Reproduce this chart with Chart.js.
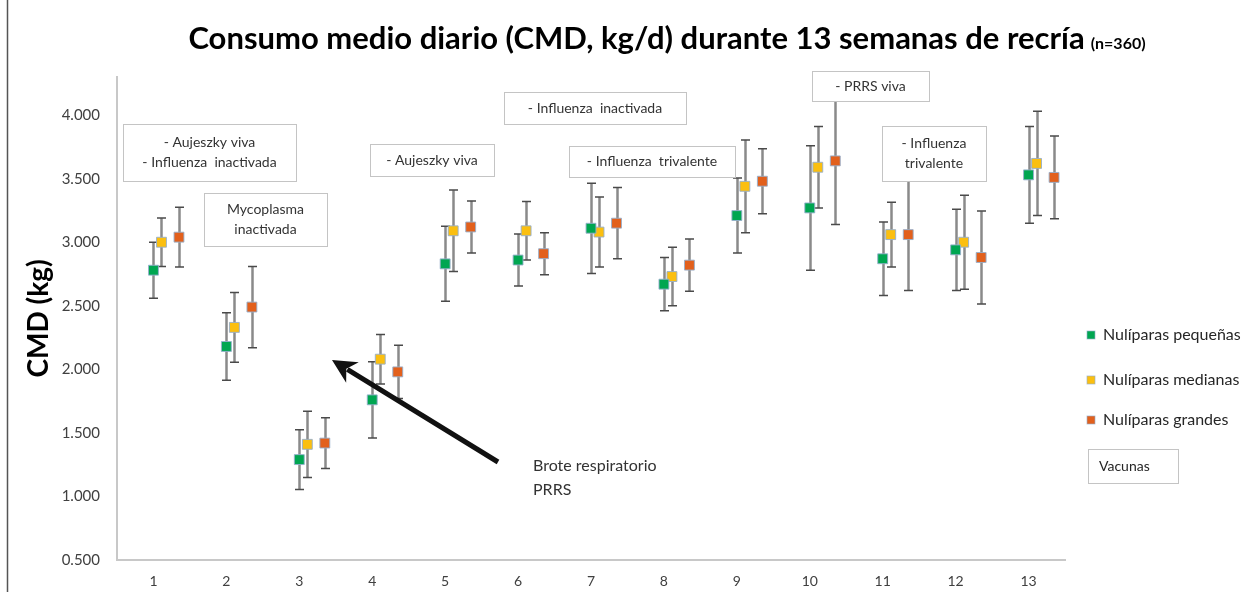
<!DOCTYPE html>
<html><head><meta charset="utf-8">
<script src="https://cdn.jsdelivr.net/npm/chart.js@4"></script>
<style>
html,body{margin:0;padding:0;background:#fff;}
canvas{display:block;}
</style></head><body>
<canvas id="c" width="1249" height="592"></canvas>
<script>
// ---- data ----
const weeks = [1,2,3,4,5,6,7,8,9,10,11,12,13];
const xTickLabels = ['1','2','3','4','5','6','7','8','9','10','11','12','13'];
const yTicks = [0.5,1,1.5,2,2.5,3,3.5,4];
const yTickLabels = ['0.500','1.000','1.500','2.000','2.500','3.000','3.500','4.000'];
const seriesNames = ['Nulíparas pequeñas','Nulíparas medianas','Nulíparas grandes'];
const pequenas    = [2.78,2.18,1.29,1.76,2.83,2.86,3.11,2.67,3.21,3.27,2.87,2.94,3.53];
const pequenasErr = [0.22,0.265,0.235,0.30,0.295,0.205,0.355,0.21,0.295,0.49,0.29,0.32,0.38];
const medianas    = [3.00,2.33,1.41,2.08,3.09,3.09,3.08,2.73,3.44,3.59,3.06,3.00,3.62];
const medianasErr = [0.19,0.275,0.26,0.195,0.32,0.23,0.275,0.23,0.365,0.32,0.255,0.37,0.41];
const grandes     = [3.04,2.49,1.42,1.98,3.12,2.91,3.15,2.82,3.48,3.64,3.06,2.88,3.51];
const grandesErr  = [0.235,0.32,0.20,0.21,0.205,0.165,0.28,0.205,0.255,0.50,0.44,0.365,0.325];
const titleText = 'Consumo medio diario (CMD, kg/d) durante 13 semanas de recría';
const titleSmall = '(n=360)';
const yTitle = 'CMD (kg)';
const vaccineNotes = [
  ['- Aujeszky viva','- Influenza  inactivada'],
  ['Mycoplasma','inactivada'],
  ['- Aujeszky viva'],
  ['- Influenza  inactivada'],
  ['- Influenza  trivalente'],
  ['- PRRS viva'],
  ['- Influenza','trivalente']
];
const outbreakNote = ['Brote respiratorio','PRRS'];
const vaccineLegend = 'Vacunas';

// ---- style ----
const colors = ['#00a651','#fbbf10','#e2601c'];
const xOffsets = [0.0, 0.11, 0.35];
const noteBoxes = [
  {x:123,y:124,w:173,h:57},
  {x:204,y:193,w:123,h:53},
  {x:370,y:144,w:124,h:32},
  {x:504,y:92,w:182,h:32},
  {x:569,y:146,w:166,h:31},
  {x:812,y:71,w:117,h:30},
  {x:882,y:126,w:104,h:55}
];
const FONT = 'Lato, "Open Sans", sans-serif';

function mk(vals, errs, k){
  return {
    label: seriesNames[k],
    data: weeks.map((w,i)=>({x: w + xOffsets[k], y: vals[i]})),
    errors: errs,
    backgroundColor: colors[k],
    borderColor: 'rgba(150,175,205,0.9)',
    borderWidth: 1,
    pointStyle: 'rect',
    pointRadius: 7,
    pointHoverRadius: 7,
    showLine: false
  };
}

const errPlugin = {
  id:'errbars',
  beforeDatasetsDraw(chart){
    const ctx = chart.ctx, xs = chart.scales.x, ys = chart.scales.y;
    ctx.save();
    chart.data.datasets.forEach(ds=>{
      ds.data.forEach((p,i)=>{
        const px = Math.round(xs.getPixelForValue(p.x)) + 0.5;
        const t = ys.getPixelForValue(p.y + ds.errors[i]);
        const b = ys.getPixelForValue(p.y - ds.errors[i]);
        ctx.strokeStyle = '#8a8a8a'; ctx.lineWidth = 2.5;
        ctx.beginPath(); ctx.moveTo(px,t); ctx.lineTo(px,b); ctx.stroke();
        ctx.strokeStyle = '#4a4a4a'; ctx.lineWidth = 1.5;
        ctx.beginPath();
        ctx.moveTo(px-4.5,t); ctx.lineTo(px+4.5,t);
        ctx.moveTo(px-4.5,b); ctx.lineTo(px+4.5,b);
        ctx.stroke();
      });
    });
    ctx.restore();
  }
};

const decoPlugin = {
  id:'deco',
  afterDraw(chart){
    const ctx = chart.ctx;
    ctx.save();
    // frame line at left
    ctx.strokeStyle = '#555'; ctx.lineWidth = 1.5;
    ctx.beginPath(); ctx.moveTo(7.5,0); ctx.lineTo(7.5,592); ctx.stroke();
    // title
    ctx.fillStyle = '#000';
    ctx.textBaseline = 'alphabetic';
    ctx.font = 'bold 31px ' + FONT;
    const w1 = ctx.measureText(titleText).width;
    ctx.font = 'bold 16px ' + FONT;
    const w2 = ctx.measureText(titleSmall).width;
    const total = w1 + 6 + w2;
    let sx = 667 - total/2;
    ctx.font = 'bold 31px ' + FONT;
    ctx.textAlign = 'left';
    ctx.fillText(titleText, sx, 49);
    ctx.font = 'bold 16px ' + FONT;
    ctx.fillText(titleSmall, sx + w1 + 6, 49);
    // vaccine notes
    ctx.font = '14px ' + FONT;
    ctx.textAlign = 'center'; ctx.textBaseline = 'middle';
    noteBoxes.forEach((b,i)=>{
      ctx.fillStyle = '#fff';
      ctx.fillRect(b.x,b.y,b.w,b.h);
      ctx.strokeStyle = '#c4c4c4'; ctx.lineWidth = 1;
      ctx.strokeRect(b.x+0.5,b.y+0.5,b.w,b.h);
      ctx.fillStyle = '#333';
      const lines = vaccineNotes[i];
      const lh = 20;
      const cy = b.y + b.h/2 - (lines.length-1)*lh/2;
      lines.forEach((l,j)=>ctx.fillText(l, b.x + b.w/2, cy + j*lh));
    });
    // arrow
    const tx=498, ty=462, hx=332, hy=360;
    const ang = Math.atan2(hy-ty, hx-tx);
    const hl = 24, hw = 12;
    const bx = hx - hl*Math.cos(ang), by = hy - hl*Math.sin(ang);
    ctx.strokeStyle = '#111'; ctx.lineWidth = 5; ctx.lineCap='butt';
    ctx.beginPath(); ctx.moveTo(tx,ty); ctx.lineTo(bx + 6*Math.cos(ang), by + 6*Math.sin(ang)); ctx.stroke();
    ctx.fillStyle = '#111';
    ctx.beginPath();
    ctx.moveTo(hx,hy);
    ctx.lineTo(bx + hw*Math.sin(ang), by - hw*Math.cos(ang));
    ctx.lineTo(bx + 0.3*hl*Math.cos(ang), by + 0.3*hl*Math.sin(ang));
    ctx.lineTo(bx - hw*Math.sin(ang), by + hw*Math.cos(ang));
    ctx.closePath(); ctx.fill();
    // outbreak note
    ctx.font = '16px ' + FONT; ctx.fillStyle = '#333';
    ctx.textAlign = 'left';
    ctx.fillText(outbreakNote[0], 533, 466);
    ctx.fillText(outbreakNote[1], 533, 490);
    // legend
    const ly = [335, 380, 420];
    ctx.font = '16px ' + FONT;
    chart.data.datasets.forEach((ds,k)=>{
      ctx.fillStyle = ds.backgroundColor;
      ctx.fillRect(1087, ly[k]-4, 8, 8);
      ctx.strokeStyle = 'rgba(150,175,205,0.8)'; ctx.lineWidth = 0.8;
      ctx.strokeRect(1087, ly[k]-4, 8, 8);
      ctx.fillStyle = '#262626';
      ctx.fillText(ds.label, 1103, ly[k]);
    });
    ctx.strokeStyle = '#c4c4c4'; ctx.lineWidth = 1;
    ctx.strokeRect(1088.5, 449.5, 90, 34);
    ctx.fillStyle = '#262626'; ctx.font = '14px ' + FONT;
    ctx.fillText(vaccineLegend, 1099, 466);
    ctx.restore();
  }
};

new Chart(document.getElementById('c'), {
  type:'scatter',
  data:{ datasets:[ mk(pequenas,pequenasErr,0), mk(medianas,medianasErr,1), mk(grandes,grandesErr,2) ] },
  options:{
    responsive:false, animation:false, devicePixelRatio:1,
    events:[],
    layout:{padding:{top:77,right:184,left:0,bottom:0}},
    plugins:{legend:{display:false}, tooltip:{enabled:false}, title:{display:false}},
    scales:{
      x:{
        type:'linear', min:0.5, max:13.5,
        afterBuildTicks:s=>{ s.ticks = weeks.map(v=>({value:v})); },
        afterFit:s=>{ s.height = 32; },
        ticks:{ callback:(v)=>xTickLabels[weeks.indexOf(v)], padding:13, color:'#404040', font:{family:FONT,size:14}, maxRotation:0, autoSkip:false },
        grid:{display:false, drawTicks:false},
        border:{color:'#c8c8c8', width:2}
      },
      y:{
        min:0.5, max:4.3,
        afterBuildTicks:s=>{ s.ticks = yTicks.map(v=>({value:v})); },
        afterFit:s=>{ s.width = 117; },
        ticks:{ callback:(v)=>yTickLabels[yTicks.indexOf(v)], padding:17, color:'#404040', font:{family:FONT,size:15} },
        grid:{display:false, drawTicks:false},
        border:{color:'#c8c8c8', width:2},
        title:{display:true, text:yTitle, color:'#000', font:{family:FONT,size:28,weight:'bold'}, padding:{top:22,bottom:0}}
      }
    }
  },
  plugins:[errPlugin, decoPlugin]
});
</script>
</body></html>
